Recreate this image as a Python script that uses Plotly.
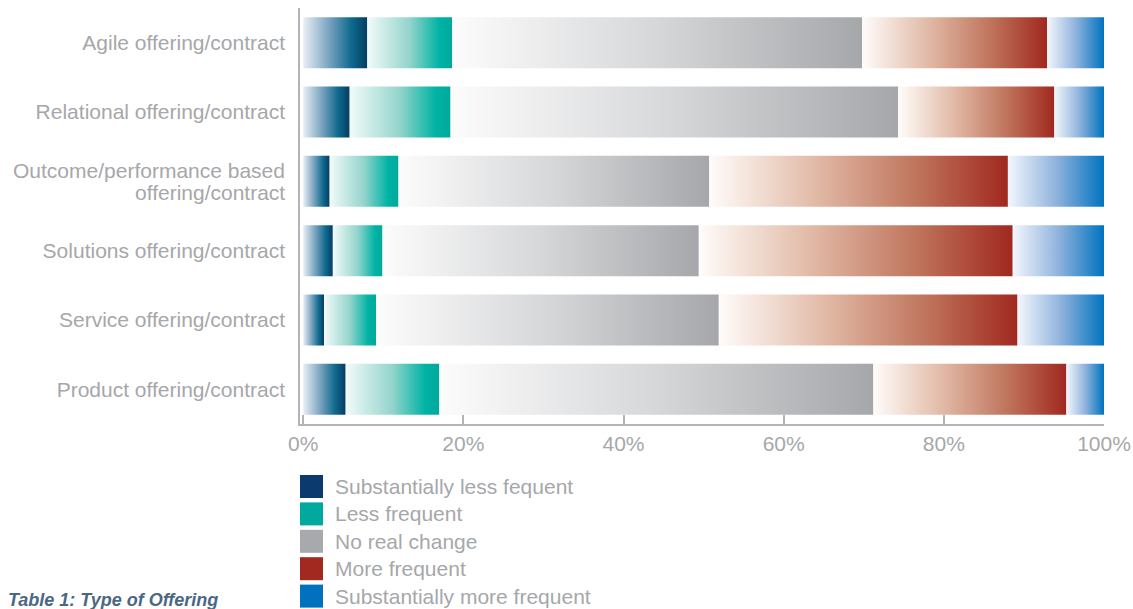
import plotly.graph_objects as go

categories = [
    "Agile offering/contract",
    "Relational offering/contract",
    "Outcome/performance based<br>offering/contract",
    "Solutions offering/contract",
    "Service offering/contract",
    "Product offering/contract",
]
series_names = [
    "Substantially less fequent",
    "Less frequent",
    "No real change",
    "More frequent",
    "Substantially more frequent",
]
subst_less = [8.0, 5.8, 3.3, 3.7, 2.6, 5.3]
less = [10.6, 12.6, 8.6, 6.2, 6.5, 11.7]
no_change = [51.2, 55.9, 38.8, 39.5, 42.8, 54.2]
more = [23.1, 19.5, 37.3, 39.2, 37.3, 24.1]
subst_more = [7.1, 6.2, 12.0, 11.4, 10.8, 4.7]
tick_vals = [0, 20, 40, 60, 80, 100]
tick_text = ["0%", "20%", "40%", "60%", "80%", "100%"]

series = [subst_less, less, no_change, more, subst_more]
solid = ["#0b3a6e", "#00a99d", "#a7a9ac", "#a2291f", "#0071bc"]
scales = [
    [[0, "#e9eff5"], [0.45, "#6c9bb9"], [0.75, "#0f6a8e"], [1, "#053d63"]],
    [[0, "#f3fbfa"], [0.5, "#93d4cc"], [0.85, "#00b3a4"], [1, "#00a99c"]],
    [[0, "#fcfcfc"], [0.5, "#d6d7d9"], [1, "#a5a7aa"]],
    [[0, "#fffcfa"], [0.35, "#e2bba8"], [0.7, "#bf735b"], [1, "#a0281f"]],
    [[0, "#f3f7fc"], [0.5, "#90b3dd"], [1, "#0073be"]],
]

GRAY = "#a6a7aa"
FONT = "Liberation Sans, Arial, sans-serif"
HALF = 0.368

fig = go.Figure()
for r, cat in enumerate(categories):
    base = 0.0
    for s, vals in enumerate(series):
        x0, x1 = base, base + vals[r]
        base = x1
        fig.add_trace(go.Scatter(
            x=[x0, x1, x1, x0, x0],
            y=[r - HALF, r - HALF, r + HALF, r + HALF, r - HALF],
            mode="lines", line=dict(width=0), fill="toself",
            fillgradient=dict(type="horizontal", colorscale=scales[s]),
            hoveron="fills", name=series_names[s],
            text=f"{cat.replace('<br>', ' ')}: {vals[r]:.1f}%",
            hoverinfo="text", showlegend=False,
        ))

L, R, T, B = 300, 28.5, 8, 185
W, H = 1133, 609
pw, ph = W - L - R, H - T - B

shapes = []
annotations = []

# multi-line category labels drawn with tighter line spacing
tick_labels = []
for r, cat in enumerate(categories):
    if "<br>" in cat:
        tick_labels.append("")
        lines = cat.split("<br>")
        n = len(lines)
        for k, line in enumerate(lines):
            annotations.append(dict(
                xref="paper", yref="y", x=(287 - L) / pw,
                y=r + (k - (n - 1) / 2) * 0.32,
                text=line, showarrow=False, xanchor="right", yanchor="middle",
                font=dict(family=FONT, size=21, color=GRAY),
            ))
    else:
        tick_labels.append(cat)

for i, name in enumerate(series_names):
    cy = 486.5 + i * 27.4
    shapes.append(dict(
        type="rect", xref="paper", yref="paper",
        x0=(300 - L) / pw, x1=(323 - L) / pw,
        y0=(H - B - (cy - 11.5)) / ph, y1=(H - B - (cy + 11.5)) / ph,
        fillcolor=solid[i], line=dict(width=0),
    ))
    annotations.append(dict(
        xref="paper", yref="paper", x=(333 - L) / pw, y=(H - B - cy) / ph,
        text=name, showarrow=False, xanchor="left", yanchor="middle",
        font=dict(family=FONT, size=21, color=GRAY),
    ))
annotations.append(dict(
    xref="paper", yref="paper", x=(6 - L) / pw, y=(H - B - 600) / ph,
    text="<b><i>Table 1: Type of Offering</i></b>", showarrow=False,
    xanchor="left", yanchor="middle",
    font=dict(family=FONT, size=18, color="#4a6785"),
))

fig.update_layout(
    width=W, height=H,
    margin=dict(l=L, r=R, t=T, b=B, pad=0),
    paper_bgcolor="white", plot_bgcolor="white",
    showlegend=False,
    shapes=shapes, annotations=annotations,
    xaxis=dict(
        range=[-0.4, 100], tickvals=tick_vals, ticktext=tick_text,
        showgrid=False, zeroline=False, automargin=False,
        showline=True, linecolor="#b3b4b7", linewidth=1.5,
        ticks="inside", ticklen=9, tickcolor="#b3b4b7", tickwidth=1.5,
        tickfont=dict(family=FONT, size=21, color=GRAY),
        fixedrange=True,
    ),
    yaxis=dict(
        range=[5.5, -0.5], tickvals=list(range(len(categories))),
        ticktext=tick_labels, showgrid=False, zeroline=False, automargin=False,
        showline=True, linecolor="#b3b4b7", linewidth=1.5,
        ticks="", ticklabelstandoff=9,
        tickfont=dict(family=FONT, size=21, color=GRAY),
        fixedrange=True,
    ),
)

fig.write_html("out.html")
